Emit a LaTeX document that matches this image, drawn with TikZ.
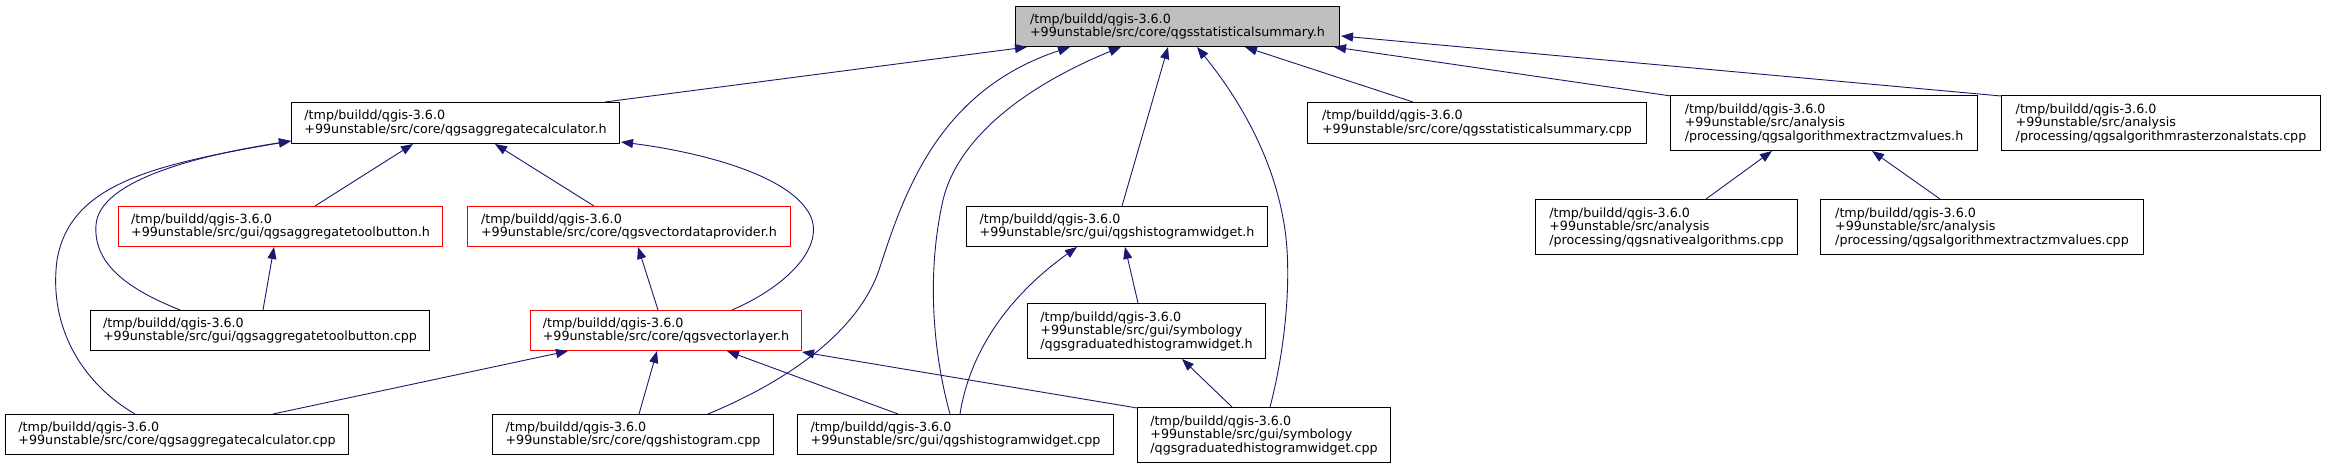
\documentclass[tikz,border=0pt]{standalone}
\usepackage{fontspec}
\setmainfont{DejaVu Sans}
\usetikzlibrary{arrows.meta}
\definecolor{midblue}{HTML}{191970}
\definecolor{cur}{HTML}{BFBFBF}
\definecolor{trunc}{HTML}{FF0000}
\tikzset{
  file/.style={draw=black,line width=1pt,fill=white,anchor=north west,align=left,inner sep=0pt,
    font=\fontsize{12.7}{13.5}\selectfont},
  filecur/.style={file,fill=cur},
  filered/.style={file,draw=trunc},
  dep/.style={-{Triangle[length=12pt,width=9pt]},draw=midblue,line width=.9pt},
}

\begin{document}
\begin{tikzpicture}[x=1pt,y=-1pt]
  \useasboundingbox[fill=white] (0,0) rectangle (2325,468);
  \node[filecur,minimum width=324pt,minimum height=40pt] (sumh) at (1015,6) {/tmp/buildd/qgis-3.6.0\\+99unstable/src/core/qgsstatisticalsummary.h};
  \node[file,minimum width=328pt,minimum height=41pt] (aggh) at (291,102) {/tmp/buildd/qgis-3.6.0\\+99unstable/src/core/qgsaggregatecalculator.h};
  \node[file,minimum width=339pt,minimum height=41pt] (sumcpp) at (1307,102) {/tmp/buildd/qgis-3.6.0\\+99unstable/src/core/qgsstatisticalsummary.cpp};
  \node[file,minimum width=307pt,minimum height=55pt] (zmh) at (1670,95) {/tmp/buildd/qgis-3.6.0\\+99unstable/src/analysis\\/processing/qgsalgorithmextractzmvalues.h};
  \node[file,minimum width=319pt,minimum height=55pt] (zonal) at (2001,95) {/tmp/buildd/qgis-3.6.0\\+99unstable/src/analysis\\/processing/qgsalgorithmrasterzonalstats.cpp};
  \node[filered,minimum width=324pt,minimum height=40pt] (tbh) at (118,206) {/tmp/buildd/qgis-3.6.0\\+99unstable/src/gui/qgsaggregatetoolbutton.h};
  \node[filered,minimum width=323pt,minimum height=40pt] (vdph) at (467,206) {/tmp/buildd/qgis-3.6.0\\+99unstable/src/core/qgsvectordataprovider.h};
  \node[file,minimum width=301pt,minimum height=40pt] (hwh) at (966,206) {/tmp/buildd/qgis-3.6.0\\+99unstable/src/gui/qgshistogramwidget.h};
  \node[file,minimum width=262pt,minimum height=55pt] (native) at (1535,199) {/tmp/buildd/qgis-3.6.0\\+99unstable/src/analysis\\/processing/qgsnativealgorithms.cpp};
  \node[file,minimum width=323pt,minimum height=55pt] (zmcpp) at (1820,199) {/tmp/buildd/qgis-3.6.0\\+99unstable/src/analysis\\/processing/qgsalgorithmextractzmvalues.cpp};
  \node[file,minimum width=339pt,minimum height=40pt] (tbcpp) at (90,310) {/tmp/buildd/qgis-3.6.0\\+99unstable/src/gui/qgsaggregatetoolbutton.cpp};
  \node[filered,minimum width=271pt,minimum height=40pt] (vlh) at (530,310) {/tmp/buildd/qgis-3.6.0\\+99unstable/src/core/qgsvectorlayer.h};
  \node[file,minimum width=238pt,minimum height=55pt] (ghwh) at (1027,303) {/tmp/buildd/qgis-3.6.0\\+99unstable/src/gui/symbology\\/qgsgraduatedhistogramwidget.h};
  \node[file,minimum width=343pt,minimum height=40pt] (aggcpp) at (5,414) {/tmp/buildd/qgis-3.6.0\\+99unstable/src/core/qgsaggregatecalculator.cpp};
  \node[file,minimum width=281pt,minimum height=40pt] (histcpp) at (492,414) {/tmp/buildd/qgis-3.6.0\\+99unstable/src/core/qgshistogram.cpp};
  \node[file,minimum width=316pt,minimum height=40pt] (hwcpp) at (797,414) {/tmp/buildd/qgis-3.6.0\\+99unstable/src/gui/qgshistogramwidget.cpp};
  \node[file,minimum width=253pt,minimum height=55pt] (ghwcpp) at (1137,407) {/tmp/buildd/qgis-3.6.0\\+99unstable/src/gui/symbology\\/qgsgraduatedhistogramwidget.cpp};
  \draw[dep] ([shift={(314,0)}]aggh.north west) -- ([shift={(12,0)}]sumh.south west);
  \draw[dep] ([shift={(216,0)}]histcpp.north west) .. controls (790,380) and (860,330) .. (880,267)
    .. controls (905,190) and (940,90) .. ([shift={(55,0)}]sumh.south west);
  \draw[dep] ([shift={(153,0)}]hwcpp.north west) .. controls (935,360) and (925,280) .. (943,200)
    .. controls (960,130) and (1040,80) .. ([shift={(106,0)}]sumh.south west);
  \draw[dep] ([shift={(156,0)}]hwh.north west) -- ([shift={(153,0)}]sumh.south west);
  \draw[dep] ([shift={(133,0)}]ghwcpp.north west) .. controls (1285,350) and (1292,280) .. (1285,230)
    .. controls (1275,160) and (1240,100) .. ([shift={(182,0)}]sumh.south west);
  \draw[dep] ([shift={(106,0)}]sumcpp.north west) -- ([shift={(230,0)}]sumh.south west);
  \draw[dep] ([shift={(1,1)}]zmh.north west) -- ([shift={(-6,0)}]sumh.south east);
  \draw[dep] ([shift={(0,1)}]zonal.north west) -- ([shift={(1,30)}]sumh.north east);
  \draw[dep] ([shift={(197,0)}]tbh.north west) -- ([shift={(122,0)}]aggh.south west);
  \draw[dep] ([shift={(127,0)}]vdph.north west) -- ([shift={(204,0)}]aggh.south west);
  \draw[dep] ([shift={(202,0)}]vlh.north west) .. controls (790,285) and (825,245) .. (810,215)
    .. controls (790,175) and (700,152) .. ([shift={(1,-2)}]aggh.south east);
  \draw[dep] ([shift={(90,0)}]tbcpp.north west) .. controls (130,290) and (93,265) .. (96,225)
    .. controls (99,180) and (200,155) .. ([shift={(0,-3)}]aggh.south west);
  \draw[dep] ([shift={(130,0)}]aggcpp.north west) .. controls (85,385) and (48,330) .. (57,260)
    .. controls (70,185) and (150,165) .. ([shift={(0,-3)}]aggh.south west);
  \draw[dep] ([shift={(173,0)}]tbcpp.north west) -- ([shift={(156,0)}]tbh.south west);
  \draw[dep] ([shift={(128,0)}]vlh.north west) -- ([shift={(171,0)}]vdph.south west);
  \draw[dep] ([shift={(268,0)}]aggcpp.north west) -- ([shift={(38,0)}]vlh.south west);
  \draw[dep] ([shift={(147,0)}]histcpp.north west) -- ([shift={(127,0)}]vlh.south west);
  \draw[dep] ([shift={(101,0)}]hwcpp.north west) -- ([shift={(197,0)}]vlh.south west);
  \draw[dep] ([shift={(0,1)}]ghwcpp.north west) -- ([shift={(0,1)}]vlh.south east);
  \draw[dep] ([shift={(163,0)}]hwcpp.north west) .. controls (970,350) and (1010,295) .. ([shift={(111,0)}]hwh.south west);
  \draw[dep] ([shift={(111,0)}]ghwh.north west) -- ([shift={(159,0)}]hwh.south west);
  \draw[dep] ([shift={(95,0)}]ghwcpp.north west) -- ([shift={(155,0)}]ghwh.south west);
  \draw[dep] ([shift={(171,0)}]native.north west) -- ([shift={(102,0)}]zmh.south west);
  \draw[dep] ([shift={(120,0)}]zmcpp.north west) -- ([shift={(202,0)}]zmh.south west);
\end{tikzpicture}
\end{document}
